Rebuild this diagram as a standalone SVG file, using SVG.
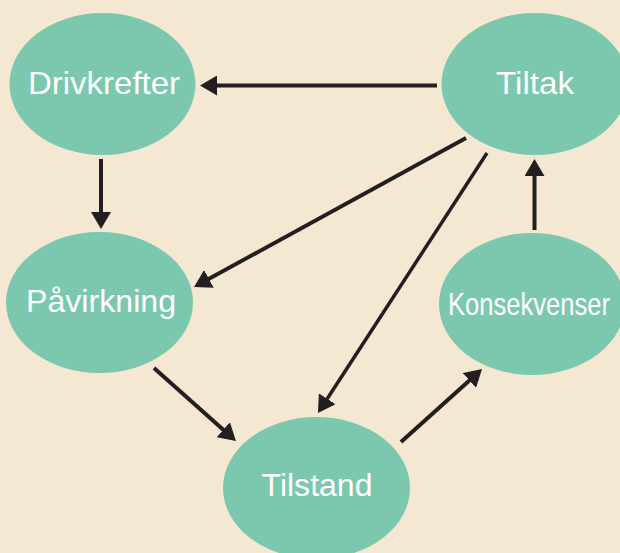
<svg xmlns="http://www.w3.org/2000/svg" width="620" height="553" viewBox="0 0 620 553">
<defs>
<style>
.node{fill:#7bc8ae}
.lbl{fill:#ffffff;font-family:"Liberation Sans",Arial,sans-serif;font-size:32px;text-anchor:middle}
.edge{stroke:#231f20;stroke-width:4;fill:none}
</style>
<marker id="ah" markerUnits="userSpaceOnUse" markerWidth="17" markerHeight="20" refX="3" refY="10" orient="auto">
<path d="M0,0 L17,10 L0,20 Z" fill="#231f20"/>
</marker>
</defs>
<rect x="0" y="0" width="620" height="553" fill="#f4e8d3"/>
<g id="drivkrefter"><ellipse class="node" cx="102.5" cy="84" rx="93" ry="71"/><text class="lbl" x="104" y="94" textLength="152" lengthAdjust="spacingAndGlyphs">Drivkrefter</text></g>
<g id="tiltak"><ellipse class="node" cx="535" cy="84" rx="93.5" ry="71"/><text class="lbl" x="535" y="94" textLength="78" lengthAdjust="spacingAndGlyphs">Tiltak</text></g>
<g id="pavirkning"><ellipse class="node" cx="99.5" cy="302.5" rx="93.5" ry="70.5"/><text class="lbl" x="101" y="312" textLength="150" lengthAdjust="spacingAndGlyphs">Påvirkning</text></g>
<g id="konsekvenser"><ellipse class="node" cx="532" cy="304" rx="93" ry="71"/><text class="lbl" x="529" y="315" textLength="162" lengthAdjust="spacingAndGlyphs">Konsekvenser</text></g>
<g id="tilstand"><ellipse class="node" cx="316.5" cy="488" rx="93.5" ry="71"/><text class="lbl" x="317" y="496" textLength="111" lengthAdjust="spacingAndGlyphs">Tilstand</text></g>
<g id="connectors">
<line class="edge" x1="437" y1="85.5" x2="214" y2="85.5" marker-end="url(#ah)"/>
<line class="edge" x1="101" y1="159" x2="101" y2="215" marker-end="url(#ah)"/>
<line class="edge" x1="466" y1="138" x2="206.3" y2="280.3" marker-end="url(#ah)"/>
<line class="edge" x1="487" y1="153" x2="325.6" y2="401.3" marker-end="url(#ah)" style="stroke-width:3.5"/>
<line class="edge" x1="154" y1="368" x2="225.5" y2="431.7" marker-end="url(#ah)"/>
<line class="edge" x1="401" y1="442" x2="471.6" y2="378.4" marker-end="url(#ah)"/>
<line class="edge" x1="534.5" y1="230" x2="534.5" y2="173" marker-end="url(#ah)"/>
</g>
</svg>
